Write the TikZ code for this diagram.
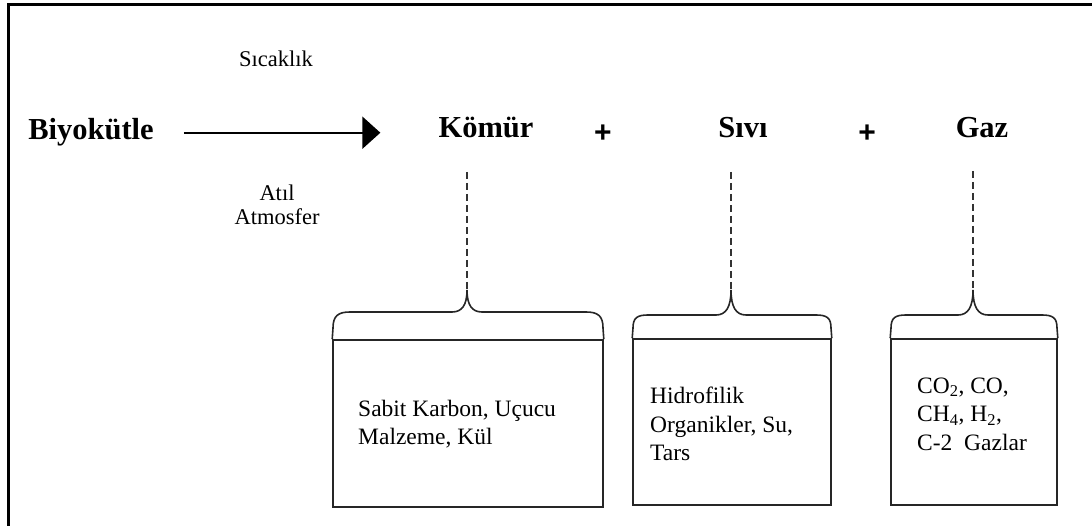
\documentclass[tikz,border=0pt]{standalone}
\usepackage{fontspec}
\setmainfont{Liberation Serif}
\setsansfont{Liberation Sans}
\usetikzlibrary{arrows.meta}

\begin{document}
\begin{tikzpicture}[x=1pt, y=-1pt,
    lbl/.style={font=\fontsize{22.5}{24}\selectfont, align=center, inner sep=0pt},
    prod/.style={font=\fontsize{30.5}{36}\selectfont\bfseries, inner sep=0pt, anchor=base},
    plus/.style={font=\fontsize{30}{34}\selectfont\sffamily\bfseries, inner sep=0pt},
    box/.style={draw=black!85, line width=1.6pt, inner sep=0pt},
    boxtext/.style={font=\fontsize{23.5}{28.5}\selectfont, align=left, anchor=west, inner sep=0pt},
    bracket/.style={draw=black!85, line width=1.6pt},
    link/.style={draw=black!80, line width=2pt, dash pattern=on 7pt off 4pt}]
    \useasboundingbox (0,0) rectangle (1092,526);

    % Frame
    \draw[line width=3.5pt] (8.5,526) -- (8.5,4.5) -- (1092,4.5);

    % Draw nodes
    \node[prod] (biyo) at (91,140) {Biyokütle};
    \node[lbl] (sicak) at (276,59) {Sıcaklık};
    \node[lbl] (atil) at (277,205) {Atıl\\Atmosfer};
    \node[prod] (komur) at (486,138) {Kömür};
    \node[plus] (plus1) at (603,134) {+};
    \node[prod] (sivi) at (743,138) {Sıvı};
    \node[plus] (plus2) at (867,134) {+};
    \node[prod] (gaz) at (982,138) {Gaz};

    % Draw arrow
    \draw[line width=2pt, -{Triangle[length=18pt, width=32pt]}, shorten <=30pt, shorten >=58pt]
        (biyo.east) -- (komur.west |- biyo.east);

    % Boxes
    \node[box, minimum width=270pt, minimum height=167pt] (boxK) at (468,423.5) {};
    \node[box, minimum width=198pt, minimum height=166pt] (boxS) at (732,422) {};
    \node[box, minimum width=166pt, minimum height=166pt] (boxG) at (974,422) {};

    \node[boxtext] (txtK) at (358,424) {Sabit Karbon, Uçucu\\Malzeme, Kül};
    \node[boxtext] (txtS) at (650,424) {Hidrofilik\\Organikler, Su,\\Tars};
    \node[boxtext] (txtG) at (917,414) {CO\textsubscript{2}, CO,\\CH\textsubscript{4}, H\textsubscript{2},\\C-2~ Gazlar};

    % Brace tips
    \coordinate (topK) at (467,172);
    \coordinate (tipK) at (467,290);
    \coordinate (topS) at (731,172);
    \coordinate (tipS) at (731,290);
    \coordinate (topG) at (973,171);
    \coordinate (tipG) at (973,290);

    % Braces
    \draw[bracket] (boxK.north west) -- (333,328) .. controls (333,316) and (338,312) .. (350,312)
        -- (452,312) .. controls (462,312) and (467,305) .. (tipK)
        .. controls (467,305) and (472,312) .. (482,312) -- (586,312)
        .. controls (598,312) and (603,316) .. (603,328) -- (boxK.north east);
    \draw[bracket] (boxS.north west) -- (633,328) .. controls (633,318) and (637,315) .. (648,315)
        -- (716,315) .. controls (726,315) and (731,307) .. (tipS)
        .. controls (731,307) and (736,315) .. (746,315) -- (816,315)
        .. controls (827,315) and (831,318) .. (831,328) -- (boxS.north east);
    \draw[bracket] (boxG.north west) -- (891,328) .. controls (891,318) and (895,315) .. (906,315)
        -- (958,315) .. controls (968,315) and (973,307) .. (tipG)
        .. controls (973,307) and (978,315) .. (988,315) -- (1042,315)
        .. controls (1053,315) and (1057,318) .. (1057,328) -- (boxG.north east);

    % Dashed links
    \draw[link] (topK) -- (tipK);
    \draw[link] (topS) -- (tipS);
    \draw[link] (topG) -- (tipG);
\end{tikzpicture}
\end{document}
